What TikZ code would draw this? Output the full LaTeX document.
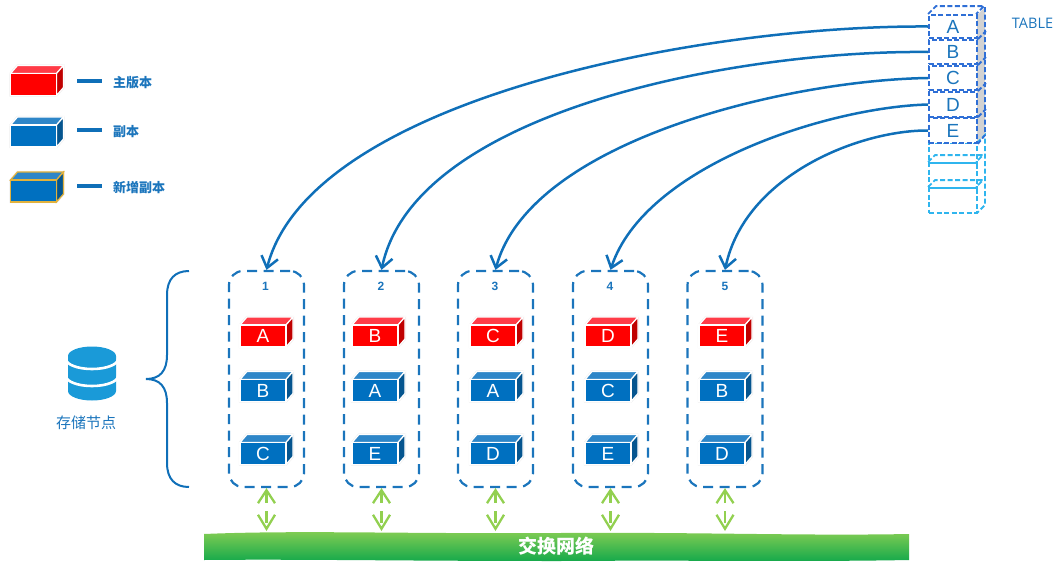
\documentclass[tikz,border=0pt]{standalone}
\usepackage{fontspec}
\setmainfont{Liberation Sans}
\newfontfamily\cjk{Noto Sans CJK SC}
\newfontfamily\tablefont{Open Sans}
\usetikzlibrary{arrows.meta}
\definecolor{linkblue}{HTML}{0F6FB8}
\definecolor{boxblue}{HTML}{1B75BC}
\definecolor{dbblue}{HTML}{1A9AD8}
\definecolor{tabblue}{HTML}{2F6FD6}
\definecolor{tablight}{HTML}{2FB5EE}
\definecolor{netgreen}{HTML}{92D050}
\definecolor{nettop}{HTML}{86CE53}
\definecolor{netbottom}{HTML}{12A84B}
\definecolor{gold}{HTML}{E2B23C}
\definecolor{red}{HTML}{FF0000}
\definecolor{redtop}{HTML}{FF3B47}
\definecolor{redside}{HTML}{C00000}
\definecolor{blue}{HTML}{0070C0}
\definecolor{bluetop}{HTML}{2E86C8}
\definecolor{blueside}{HTML}{05558F}
\tikzset{
	blockface/.style={inner sep=0pt,minimum width=46pt,minimum height=22pt,text=white,font=\fontsize{19}{19}\selectfont},
	storebox/.style={draw=boxblue,line width=2.2pt,dash pattern=on 10pt off 6.5pt,rounded corners=14pt,minimum width=75pt,minimum height=216pt,inner sep=0pt},
	boxnum/.style={text=boxblue,font=\fontsize{12}{12}\selectfont\bfseries},
	link/.style={draw=linkblue,line width=2.5pt,-{Straight Barb[length=11pt,width=17pt,line width=2.5pt]}},
	netlink/.style={draw=netgreen,line width=2.3pt,dash pattern=on 12pt off 8pt,{Straight Barb[length=13pt,width=17pt,line width=2.3pt]}-{Straight Barb[length=14pt,width=17pt,line width=2.3pt]}},
	legdash/.style={draw=linkblue,line width=4pt},
	legtext/.style={anchor=west,inner sep=0pt,text=boxblue,font=\fontsize{13}{13}\selectfont\cjk\bfseries},
	tabcell/.style={draw=#1,line width=1.8pt,dash pattern=on 5pt off 2.5pt,inner sep=0pt,minimum width=48pt,text=boxblue,font=\fontsize{19}{19}\selectfont},
}
% one replica: name, centre, colour family, text
\newcommand\block[5][white]{
	\draw [gray!12,line width=2.4pt] (#3) ++(-23,-11) -- ++(0,22) -- ++(7,8) -- ++(46,0) -- ++(0,-22) -- ++(-7,-8) -- cycle;
	\fill [#4top,draw=#1,line width=1.2pt] (#3) ++(-23,11) -- ++(7,8) -- ++(46,0) -- ++(-7,-8) -- cycle;
	\fill [#4side,draw=#1,line width=1.2pt] (#3) ++(23,11) -- ++(7,8) -- ++(0,-22) -- ++(-7,-8) -- cycle;
	\node [blockface,fill=#4,draw=#1,line width=1.2pt] (#2) at (#3) {#5};
}
% one table row: name, centre, height, colour, text
\newcommand\tabrow[6][white]{
	\node [tabcell=#5,fill=#1,minimum height=#4pt] (#2) at (#3) {#6};
}
\begin{document}
\begin{tikzpicture}[x=1pt,y=1pt]
	\useasboundingbox (0,0) rectangle (1058,-563);
	% legend
	\block{legred}{33.5,-84.5}{red}{}
	\block{legblue}{33.5,-136}{blue}{}
	\block[gold]{legnew}{33.5,-191}{blue}{}
	\coordinate (dasha1) at (77,-81);
	\coordinate (dasha2) at (102,-81);
	\coordinate (dashb1) at (77,-130);
	\coordinate (dashb2) at (102,-130);
	\coordinate (dashc1) at (77,-186);
	\coordinate (dashc2) at (102,-186);
	\draw [legdash] (dasha1) -- (dasha2);
	\draw [legdash] (dashb1) -- (dashb2);
	\draw [legdash] (dashc1) -- (dashc2);
	\node [legtext] (legredtext) at (113,-82.5) {主版本};
	\node [legtext] (legbluetext) at (113,-132) {副本};
	\node [legtext] (legnewtext) at (113,-188) {新增副本};
	% table
	\fill [gray!35] (977,-15) -- (985,-7) -- (985,-135) -- (977,-143) -- cycle;
	\draw [tabcell=tablight] (977,-143) -- (985,-135) -- (985,-205) -- (977,-213);
	\tabrow[none]{tabf}{953,-153}{20}{tablight}{}
	\tabrow[none]{tabg}{953,-175.5}{25}{tablight}{}
	\tabrow[none]{tabh}{953,-200.5}{25}{tablight}{}
	\draw [tabcell=tablight] (tabg.north west) -- ++(7,7) -- ++(48,0) -- ++(-7,-7);
	\draw [tabcell=tablight] (tabh.north west) -- ++(7,7) -- ++(48,0) -- ++(-7,-7);
	\tabrow{taba}{953,-26.5}{23}{tabblue}{A}
	\tabrow{tabb}{953,-52}{24}{tabblue}{B}
	\tabrow{tabc}{953,-78}{24}{tabblue}{C}
	\tabrow{tabd}{953,-104.5}{25}{tabblue}{D}
	\tabrow{tabe}{953,-130.5}{25}{tabblue}{E}
	\draw [tabcell=tabblue] (taba.north west) -- ++(8,8) -- ++(48,0) -- ++(-8,-8);
	\draw [tabcell=tabblue] (985,-7) -- (985,-135) -- (tabe.south east);
	\draw [tabcell=tabblue] (tabb.north east) -- ++(8,8);
	\draw [tabcell=tabblue] (tabc.north east) -- ++(8,8);
	\draw [tabcell=tabblue] (tabd.north east) -- ++(8,8);
	\draw [tabcell=tabblue] (tabe.north east) -- ++(8,8);
	\node [inner sep=0pt,text=boxblue,font=\fontsize{14.5}{14.5}\selectfont\tablefont] (tabname) at (1032.5,-23) {TABLE};
	% storage nodes
	\node [storebox] (box1) at (266.5,-379) {};
	\node [storebox] (box2) at (381.5,-379) {};
	\node [storebox] (box3) at (495.5,-379) {};
	\node [storebox] (box4) at (610.5,-379) {};
	\node [storebox] (box5) at (725,-379) {};
	\node [boxnum] (num1) at (265.5,-286) {1};
	\node [boxnum] (num2) at (381,-286) {2};
	\node [boxnum] (num3) at (495,-286) {3};
	\node [boxnum] (num4) at (610,-286) {4};
	\node [boxnum] (num5) at (725,-286) {5};
	\block{a1}{263,-336}{red}{A}
	\block{b1}{263,-390.5}{blue}{B}
	\block{c1}{263,-453.5}{blue}{C}
	\block{b2}{375,-336}{red}{B}
	\block{a2}{375,-390.5}{blue}{A}
	\block{e2}{375,-453.5}{blue}{E}
	\block{c3}{493,-336}{red}{C}
	\block{a3}{493,-390.5}{blue}{A}
	\block{d3}{493,-453.5}{blue}{D}
	\block{d4}{608,-336}{red}{D}
	\block{c4}{608,-390.5}{blue}{C}
	\block{e4}{608,-453.5}{blue}{E}
	\block{e5}{722,-336}{red}{E}
	\block{b5}{722,-390.5}{blue}{B}
	\block{d5}{722,-453.5}{blue}{D}
	% links from table to nodes
	\draw [link] (taba.west) .. controls (700,-25) and (310,-100) .. (box1.north);
	\draw [link] (tabb.west) .. controls (740,-50) and (415,-110) .. (box2.north);
	\draw [link] (tabc.west) .. controls (790,-80) and (530,-140) .. (box3.north);
	\draw [link] (tabd.west) .. controls (830,-107) and (645,-165) .. (box4.north);
	\draw [link] (tabe.west) .. controls (860,-130) and (745,-175) .. (box5.north);
	% brace and database
	\draw [linkblue,line width=2pt] (189,-271) .. controls (175,-271) and (167,-279) .. (167,-295) -- (167,-355) .. controls (167,-371) and (160,-379) .. (146,-379) .. controls (160,-379) and (167,-387) .. (167,-403) -- (167,-463) .. controls (167,-479) and (175,-487) .. (189,-487);
	\fill [dbblue] (68,-356) arc (180:0:24 and 9.5) -- (116,-391) arc (360:180:24 and 9.5) -- cycle;
	\draw [white,line width=2.6pt] (66,-359) arc (180:360:26 and 10);
	\draw [white,line width=2.6pt] (66,-376) arc (180:360:26 and 10);
	\node [inner sep=0pt,text=boxblue,font=\fontsize{15}{15}\selectfont\cjk] (dbname) at (86,-423) {存储节点};
	% switch network
	\shade [top color=nettop,bottom color=netbottom] (204,-534) .. controls (300,-530) and (400,-534) .. (560,-533) .. controls (700,-532) and (800,-536) .. (909,-534) -- (909,-560) .. controls (800,-562) and (700,-560) .. (560,-561) .. controls (400,-561) and (300,-559) .. (204,-560) -- cycle;
	\node [inner sep=0pt,text=white,font=\fontsize{19}{19}\selectfont\cjk\bfseries] (netname) at (556,-546) {交换网络};
	\coordinate (net1) at (266.5,-531);
	\coordinate (net2) at (381.5,-531);
	\coordinate (net3) at (495.5,-531);
	\coordinate (net4) at (610.5,-531);
	\coordinate (net5) at (725,-531);
	\draw [netlink] (box1.south) -- (net1);
	\draw [netlink] (box2.south) -- (net2);
	\draw [netlink] (box3.south) -- (net3);
	\draw [netlink] (box4.south) -- (net4);
	\draw [netlink] (box5.south) -- (net5);
\end{tikzpicture}
\end{document}
